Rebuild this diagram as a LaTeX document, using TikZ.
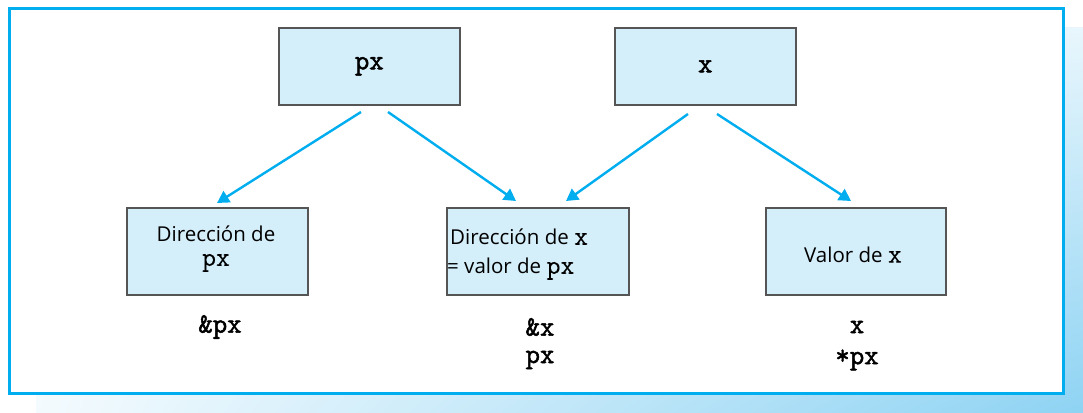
\documentclass[tikz,border=0pt]{standalone}
\usepackage{fontspec}
\setmainfont{Open Sans}
\newfontfamily\courr{Latin Modern Mono}[FakeBold=0.3]
\newfontfamily\courb{Latin Modern Mono}[FakeBold=1.8]
\usetikzlibrary{arrows.meta,shadings}
\definecolor{cyanline}{HTML}{00AEEF}
\definecolor{boxfill}{HTML}{D4EEFA}
\definecolor{boxline}{HTML}{555555}
\definecolor{shadowc}{HTML}{8ED3F3}
\begin{document}
\begin{tikzpicture}[x=1pt,y=-1pt,
  cell/.style={draw=boxline,line width=1.6pt,fill=boxfill,minimum width=181pt,anchor=north west,inner sep=0pt},
  link/.style={draw=cyanline,line width=2.4pt,-{Triangle[length=12pt,width=13pt]}},
  lab/.style={font=\fontsize{28}{30}\selectfont\courb,inner sep=0pt},
  sans/.style={font=\fontsize{20.5}{24}\selectfont,inner sep=0pt},
]
\newcommand{\mono}[1]{{\fontsize{27}{30}\selectfont\courr #1}}
\useasboundingbox (0,0) rectangle (1083,412);
% shadow
\shade[upper left=white,upper right=white!80!shadowc,lower left=white!90!shadowc,lower right=shadowc] (36,28) rectangle (1083,412);
% frame
\draw[cyanline,line width=3pt,fill=white] (9,9) rectangle (1063,393);
% top boxes
\node[cell,minimum height=77pt] (px) at (278,27) {};
\node[lab] at (px.center) {px};
\node[cell,minimum height=77pt] (x) at (614,27) {};
\node[lab] at (x.center) {x};
% bottom boxes
\node[cell,minimum height=87pt] (dpx) at (126,207) {};
\node[cell,minimum height=87pt,minimum width=182pt] (dx) at (446,207) {};
\node[cell,minimum height=87pt,minimum width=180pt] (vx) at (765,207) {};
\node[sans,align=center,font=\fontsize{20.5}{24}\selectfont] (t1) at (216,249) {Dirección de\\\mono{px}};
\node[sans,anchor=west] (t3) at (450,237) {Dirección de \mono{x}};
\node[sans,anchor=west] (t4) at (447,269) {= valor de \mono{px}};
\node[sans] (t5) at (853,255) {Valor de \mono{x}};
% labels below
\node[lab] (l1) at (220,327) {\&px};
\node[lab] (l2) at (540,327) {\&x};
\node[lab] (l3) at (540,360) {px};
\node[lab] (l4) at (857,327) {x};
\node[lab] (l5) at (857,360) {*px};
% arrows
\coordinate (a1s) at (361,112); \coordinate (a1e) at (217,203);
\coordinate (a2s) at (388,112); \coordinate (a2e) at (516,201);
\coordinate (a3s) at (688,114); \coordinate (a3e) at (566,201);
\coordinate (a4s) at (717,114); \coordinate (a4e) at (851,201);
\draw[link] (a1s) -- (a1e);
\draw[link] (a2s) -- (a2e);
\draw[link] (a3s) -- (a3e);
\draw[link] (a4s) -- (a4e);
\end{tikzpicture}
\end{document}
